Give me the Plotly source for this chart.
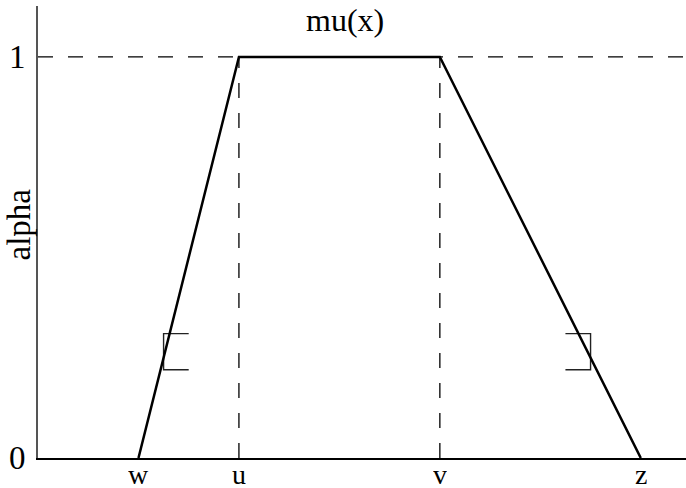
import plotly.graph_objects as go

# Data
x_labels = ["w", "u", "v", "z"]
x_points = [1, 2, 4, 6]
mu_values = [0, 1, 1, 0]
y_tick_vals = [0, 1]
y_tick_text = ["0", "1"]
left_bracket_x = [1.5, 1.25, 1.25, 1.5]
right_bracket_x = [5.25, 5.5, 5.5, 5.25]
bracket_y = [0.31, 0.31, 0.22, 0.22]
x_max = 6.45
y_max = 1.127

FONT = "Liberation Serif"
L, T, B = 37.5, 6, 30
W, H = 686, 488
PW, PH = W - L, H - T - B

fig = go.Figure()

# dashed guide lines
fig.add_trace(go.Scatter(x=[0, x_max], y=[1, 1], mode="lines",
                         line=dict(color="black", width=1.3, dash="15px,15px"),
                         hoverinfo="skip", showlegend=False))
for xv in [x_points[1], x_points[2]]:
    fig.add_trace(go.Scatter(x=[xv, xv], y=[0, 1], mode="lines",
                             line=dict(color="black", width=1.3, dash="15px,15px"),
                             hoverinfo="skip", showlegend=False))

# brackets
fig.add_trace(go.Scatter(x=left_bracket_x, y=bracket_y, mode="lines",
                         line=dict(color="#222", width=1.4), showlegend=False))
fig.add_trace(go.Scatter(x=right_bracket_x, y=bracket_y, mode="lines",
                         line=dict(color="#222", width=1.4), showlegend=False))

# trapezoid
fig.add_trace(go.Scatter(x=x_points, y=mu_values, mode="lines",
                         line=dict(color="black", width=2.5), showlegend=False))

# x tick labels as annotations
for xv, lab in zip(x_points, x_labels):
    fig.add_annotation(text=lab, x=xv, y=-(474 - (H - B)) / PH,
                       xref="x", yref="paper", showarrow=False,
                       xanchor="center", yanchor="middle", borderpad=0,
                       height=26, valign="middle",
                       font=dict(family=FONT, size=28, color="black"))
# y tick labels as annotations
for yv, lab in zip(y_tick_vals, y_tick_text):
    fig.add_annotation(text=lab, x=-(L - 27) / PW, y=yv,
                       xref="paper", yref="y", showarrow=False,
                       xanchor="right", yanchor="middle",
                       font=dict(family=FONT, size=33, color="black"))

fig.add_annotation(text="mu(x)", x=(345 - L) / PW, y=(H - B - 20) / PH,
                   xref="paper", yref="paper", showarrow=False,
                   xanchor="center", yanchor="middle",
                   font=dict(family=FONT, size=32, color="black"))
fig.add_annotation(text="alpha", x=(18 - L) / PW, y=(H - B - 225) / PH,
                   xref="paper", yref="paper", showarrow=False, textangle=-90,
                   xanchor="center", yanchor="middle",
                   font=dict(family=FONT, size=33, color="black"))

fig.update_layout(
    width=W, height=H,
    margin=dict(l=L, r=0, t=T, b=B, autoexpand=False),
    plot_bgcolor="white", paper_bgcolor="white",
    font=dict(family=FONT, color="black"),
    xaxis=dict(range=[0, x_max], showgrid=False, zeroline=False,
               showline=True, linecolor="black", linewidth=2,
               showticklabels=False, ticks="", automargin=False),
    yaxis=dict(range=[0, y_max], showgrid=False, zeroline=False,
               showline=True, linecolor="#555", linewidth=2,
               showticklabels=False, ticks="", automargin=False),
)

fig.write_html("out.html", config={"displayModeBar": False},
               post_script="document.body.style.margin='0';document.body.style.overflow='hidden';")
